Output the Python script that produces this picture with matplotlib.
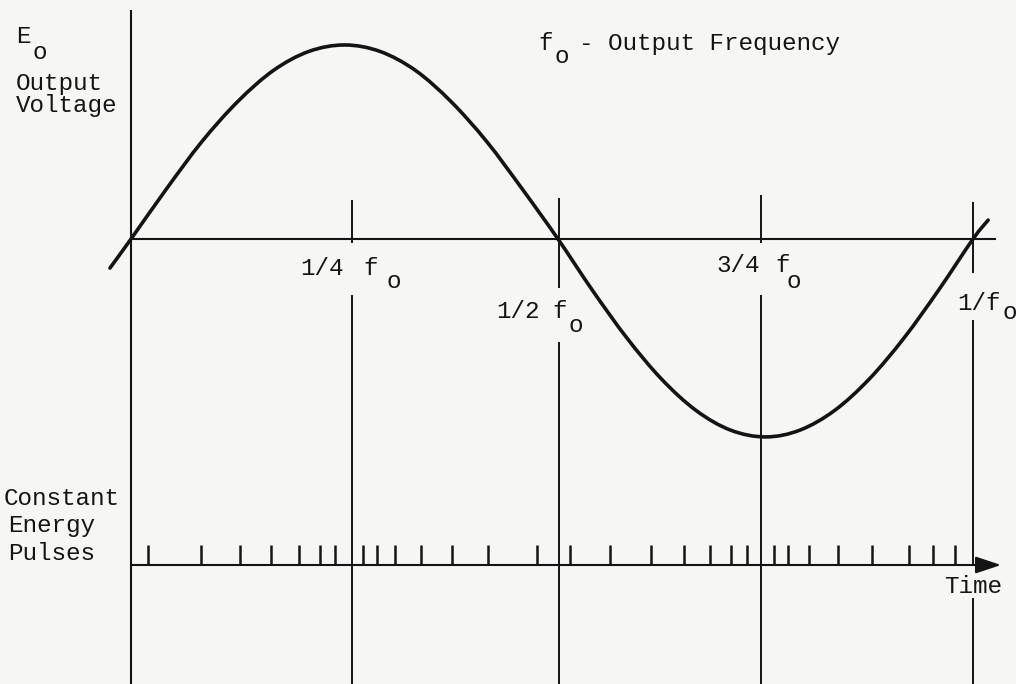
import matplotlib
matplotlib.use("Agg")
import matplotlib.pyplot as plt
from matplotlib.path import Path
from matplotlib.patches import PathPatch

# ---------------- data (time in periods of the output, voltage normalised) ----
curve_t = [-0.025, 0.0, 0.0423, 0.0843, 0.1268, 0.169, 0.2113, 0.2536, 0.2957,
           0.338, 0.380, 0.4224, 0.4644, 0.5071, 0.548, 0.589, 0.630, 0.671,
           0.712, 0.7536, 0.7945, 0.8357, 0.8768, 0.918, 0.959, 1.0, 1.018]
curve_v = [-0.149, 0.0, 0.258, 0.50, 0.705, 0.864, 0.962, 0.995, 0.962,
           0.864, 0.705, 0.50, 0.258, 0.0, -0.263, -0.508, -0.718, -0.879,
           -0.980, -1.015, -0.980, -0.879, -0.718, -0.508, -0.263, 0.0, 0.097]

pulse_t = [0.0205, 0.0827, 0.130, 0.166, 0.200, 0.224, 0.242, 0.276, 0.292,
           0.314, 0.345, 0.381, 0.424, 0.482, 0.521, 0.569, 0.617, 0.657,
           0.688, 0.712, 0.732, 0.764, 0.780, 0.805, 0.840, 0.880, 0.924,
           0.952, 0.979]

marker_t = [0.2625, 0.5083, 0.7482, 1.0]

# ---------------- layout -----------------------------------------------------
W, H = 1016, 684
X0_PX, X1_PX = 131, 973      # t = 0 and t = 1
Y0_PX, AMP_PX = 239, 195     # v = 0 line and unit amplitude
INK = "#141414"
BG = "#f6f6f4"
FONT = "Liberation Mono"
FS = 17.5

fig = plt.figure(figsize=(W / 100, H / 100), dpi=100, facecolor=BG)
ax = fig.add_axes([0, 0, 1, 1])
ax.set_facecolor(BG)
ax.axis("off")
span = X1_PX - X0_PX
ax.set_xlim(-X0_PX / span, (W - X0_PX) / span)
ax.set_ylim((Y0_PX - H) / AMP_PX, Y0_PX / AMP_PX)
ybot = (Y0_PX - H) / AMP_PX


def vy(py):
    return (Y0_PX - py) / AMP_PX


def tx(px):
    return (px - X0_PX) / span


# left vertical axis
ax.plot([0, 0], [vy(10), ybot], color=INK, lw=1.5, solid_capstyle="butt")
# zero line
ax.plot([0, tx(995)], [0, 0], color=INK, lw=1.5)

# marker lines with gaps for labels: (top, gap_start, gap_end)
gaps = [(200, 243, 295), (198, 288, 342), (195, 243, 295), (202, 273, 320)]
for t, (top, g0, g1) in zip(marker_t, gaps):
    ax.plot([t, t], [vy(top), vy(g0)], color=INK, lw=1.4, solid_capstyle="butt")
    if t == 1.0:
        ax.plot([t, t], [vy(g1), vy(565)], color=INK, lw=1.4, solid_capstyle="butt")
        ax.plot([t, t], [vy(598), ybot], color=INK, lw=1.4, solid_capstyle="butt")
    else:
        ax.plot([t, t], [vy(g1), ybot], color=INK, lw=1.4, solid_capstyle="butt")

# the output voltage waveform: smooth curve through the read points
# (Catmull-Rom segments rendered as cubic Bezier curves)
pts = list(zip(curve_t, curve_v))
verts = [pts[0]]
codes = [Path.MOVETO]
n = len(pts)
for i in range(n - 1):
    p0 = pts[i - 1] if i > 0 else pts[i]
    p1 = pts[i]
    p2 = pts[i + 1]
    p3 = pts[i + 2] if i + 2 < n else pts[i + 1]
    c1 = (p1[0] + (p2[0] - p0[0]) / 6, p1[1] + (p2[1] - p0[1]) / 6)
    c2 = (p2[0] - (p3[0] - p1[0]) / 6, p2[1] - (p3[1] - p1[1]) / 6)
    verts += [c1, c2, p2]
    codes += [Path.CURVE4] * 3
ax.add_patch(PathPatch(Path(verts, codes), facecolor="none", edgecolor=INK,
                       lw=2.6, capstyle="round", joinstyle="round"))

# constant energy pulses
vp = vy(565)
ax.vlines(pulse_t, vp, vp + 20 / AMP_PX, color=INK, lw=1.8)
ax.plot([0, tx(985)], [vp, vp], color=INK, lw=1.5)
ax.annotate("", xy=(tx(1001), vp), xytext=(tx(975), vp),
            arrowprops=dict(arrowstyle="-|>,head_length=1.2,head_width=0.4",
                            color=INK, lw=1.5, mutation_scale=13,
                            shrinkA=0, shrinkB=0))


def ptext(x, y, s, **kw):
    fig.text(x / W, 1 - y / H, s, family=FONT, fontsize=kw.pop("fs", FS),
             color=INK, ha="left", va="baseline", **kw)


# texts
ptext(16, 43, "E")
ptext(33, 59, "o")
ptext(16, 90, "Output")
ptext(16, 112, "Voltage")

ptext(538, 50, "f")
ptext(554, 63, "o")
ptext(579, 50, "- Output Frequency")

ptext(300, 275, "1/4")
ptext(363, 275, "f")
ptext(386, 288, "o")

ptext(496, 318, "1/2")
ptext(552, 318, "f")
ptext(568, 332, "o")

ptext(716, 272, "3/4")
ptext(775, 272, "f")
ptext(786, 288, "o")

ptext(957, 310, "1/f")
ptext(1003, 319, "o")

ptext(4, 505, "Constant")
ptext(8, 532, "Energy")
ptext(8, 560, "Pulses")

ptext(944, 593, "Time")

fig.savefig("out.png", dpi=100, facecolor=BG)
